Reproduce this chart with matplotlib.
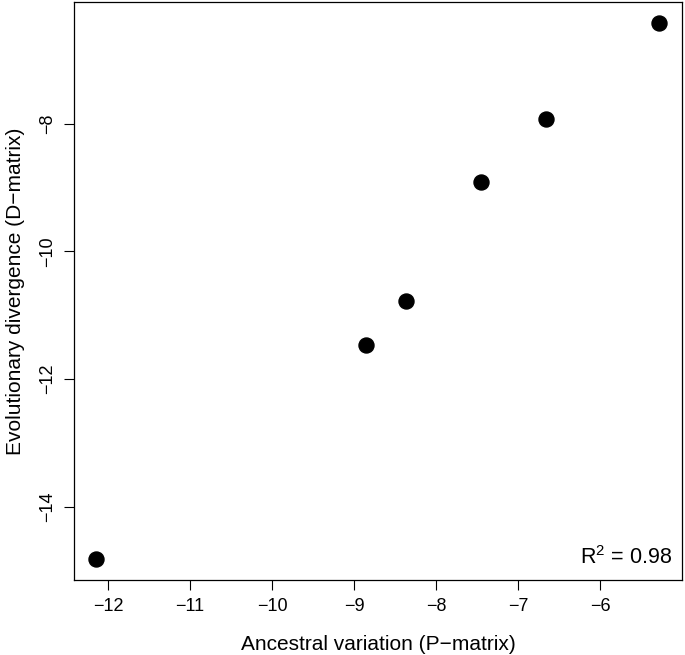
import matplotlib
matplotlib.use("Agg")
import matplotlib.pyplot as plt

# values
ancestral = [-12.14, -8.85, -8.37, -7.46, -6.66, -5.28]
divergence = [-14.81, -11.47, -10.77, -8.92, -7.92, -6.43]
r2_label = "R$^{2}$ = 0.98"
xticks = [-12, -11, -10, -9, -8, -7, -6]
yticks = [-14, -12, -10, -8]

plt.rcParams["font.family"] = ["Liberation Sans", "DejaVu Sans"]
plt.rcParams["mathtext.fontset"] = "custom"
plt.rcParams["mathtext.rm"] = "Liberation Sans"
plt.rcParams["mathtext.it"] = "Liberation Sans"

fig = plt.figure(figsize=(6.85, 6.55), dpi=100)
ax = fig.add_axes([0.108, 0.1145, 0.8876, 0.8825])
ax.plot(ancestral, divergence, "o", color="black", ms=10.8, mec="black")

# R-style 4% padding
def pad(v):
    lo, hi = min(v), max(v)
    d = (hi - lo) * 0.04
    return lo - d, hi + d

ax.set_xlim(*pad(ancestral))
ax.set_ylim(*pad(divergence))
ax.set_xticks(xticks)
ax.set_yticks(yticks)
ax.set_xticklabels([f"\u2212{abs(t)}" for t in xticks])
ax.set_yticklabels([f"\u2212{abs(t)}" for t in yticks], rotation=90, va="center")
ax.tick_params(direction="out", length=7.2, width=0.8, labelsize=13, pad=6)
for s in ax.spines.values():
    s.set_linewidth(0.9)

ax.set_xlabel("Ancestral variation (P\u2212matrix)", fontsize=15, labelpad=14)
ax.set_ylabel("Evolutionary divergence (D\u2212matrix)", fontsize=15, labelpad=10)

ax.text(0.9836, 0.027, r2_label, transform=ax.transAxes,
        ha="right", va="baseline", fontsize=15.5)

fig.savefig("out.png", dpi=100)
